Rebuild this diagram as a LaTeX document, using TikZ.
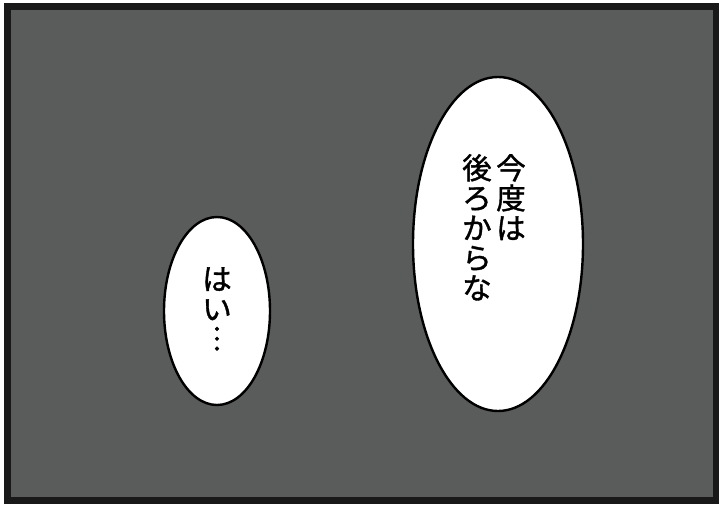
\documentclass[tikz,border=0pt]{standalone}
\usepackage{fontspec}
\newfontfamily\cjk[FakeBold=1.3]{Noto Sans CJK JP}
\definecolor{panelgray}{RGB}{89,92,91}
\begin{document}
\begin{tikzpicture}[x=1pt,y=-1pt,
  bubble/.style={draw=black,line width=2.4pt,fill=white},
  vtext/.style={inner sep=0pt,align=center,anchor=north,font=\cjk\fontsize{29.5}{30}\selectfont}]
\useasboundingbox (0,0) rectangle (723,504);
\fill[white] (0,0) rectangle (723,504);
\fill[black!90] (4,3) rectangle (719,504);
\fill[panelgray] (11,10) rectangle (713,497);
\draw[bubble] (498,244) ellipse [x radius=85, y radius=167];
\draw[bubble] (217,311) ellipse [x radius=53, y radius=94];
\node[vtext] (c1) at (511,154) {今\\度\\は};
\node[vtext] (c2) at (477,154) {後\\ろ\\か\\ら\\な};
\node[vtext] (c3) at (217,267) {は\\い\\︙};
\end{tikzpicture}
\end{document}
